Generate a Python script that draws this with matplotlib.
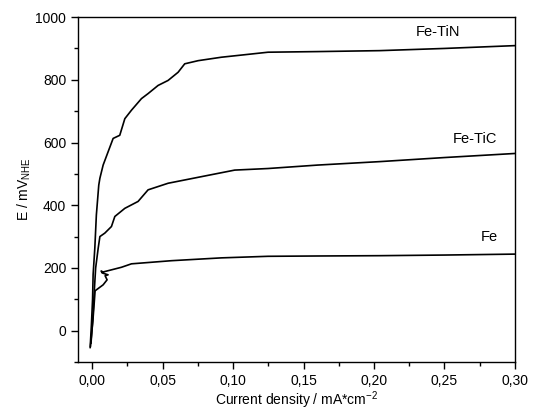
import matplotlib.pyplot as plt
from matplotlib.ticker import FuncFormatter, MultipleLocator

plt.rcParams['font.family'] = ['Liberation Sans', 'DejaVu Sans']
plt.rcParams['mathtext.fontset'] = 'custom'
plt.rcParams['mathtext.rm'] = 'Liberation Sans'

# Fe-TiN curve (current density mA/cm2, potential mV NHE)
tin_x = [-0.0014, -0.0005, 0.0003, 0.0007, 0.0019, 0.003, 0.0047, 0.0055, 0.0078, 0.0113,
         0.0149, 0.0196, 0.0232, 0.0279, 0.035, 0.0397, 0.0468, 0.0539, 0.061, 0.0657,
         0.0752, 0.0917, 0.1083, 0.1248, 0.16, 0.204, 0.25, 0.30]
tin_y = [-54, 20, 100, 179, 263, 369, 464, 486, 528, 570,
         613, 623, 676, 703, 740, 756, 782, 798, 824, 851,
         861, 872, 880, 888, 890, 893, 900, 909]

# Fe-TiC curve
tic_x = [-0.0008, 0.0005, 0.0015, 0.0025, 0.0043, 0.0055, 0.009, 0.0137, 0.0161, 0.0232,
         0.0326, 0.0397, 0.0539, 0.0775, 0.1012, 0.1248, 0.16, 0.204, 0.25, 0.30]
tic_y = [-40, 40, 125, 200, 263, 300, 311, 332, 364, 390,
         412, 449, 470, 491, 512, 517, 528, 539, 552, 565]

# Fe curve
fe_x = [-0.0012, 0.0005, 0.0015, 0.0021, 0.0078, 0.0106, 0.0092, 0.0113, 0.0071, 0.0064,
        0.0078, 0.0208, 0.0279, 0.0563, 0.0917, 0.1248, 0.16, 0.204, 0.25, 0.30]
fe_y = [-50, 30, 90, 127, 146, 162, 175, 178, 184, 190,
        187, 202, 213, 223, 232, 237, 238, 239, 241, 244]

labels = ["Fe-TiN", "Fe-TiC", "Fe"]
label_x = [0.2455, 0.2716, 0.2816]
label_y = [952, 610, 300]

fig = plt.figure(figsize=(5.42, 4.17), dpi=100)
ax = fig.add_axes([0.144, 0.132, 0.806, 0.827])

ax.plot(tin_x, tin_y, color='black', lw=1.2)
ax.plot(tic_x, tic_y, color='black', lw=1.2)
ax.plot(fe_x, fe_y, color='black', lw=1.2)

for t, lx, ly in zip(labels, label_x, label_y):
    ax.text(lx, ly, t, fontsize=10.5, ha='center', va='center')

ax.set_xlim(-0.01, 0.30)
ax.set_ylim(-100, 1000)
ax.xaxis.set_major_locator(MultipleLocator(0.05))
ax.xaxis.set_minor_locator(MultipleLocator(0.025))
ax.yaxis.set_major_locator(MultipleLocator(200))
ax.yaxis.set_minor_locator(MultipleLocator(100))
ax.xaxis.set_major_formatter(FuncFormatter(lambda v, p: f'{v:.2f}'.replace('.', ',')))
ax.yaxis.set_major_formatter(FuncFormatter(lambda v, p: f'{v:.0f}'))
ax.tick_params(which='both', direction='out', labelsize=10, width=1)
ax.tick_params(which='major', length=5)
ax.tick_params(which='minor', length=3)
for s in ax.spines.values():
    s.set_linewidth(1)

ax.set_xlabel('Current density / mA*cm$^{-2}$', fontsize=10, labelpad=1)
ax.set_ylabel('E / mV$_{\\mathregular{NHE}}$', fontsize=10, labelpad=2)

fig.savefig('out.png', dpi=100)
